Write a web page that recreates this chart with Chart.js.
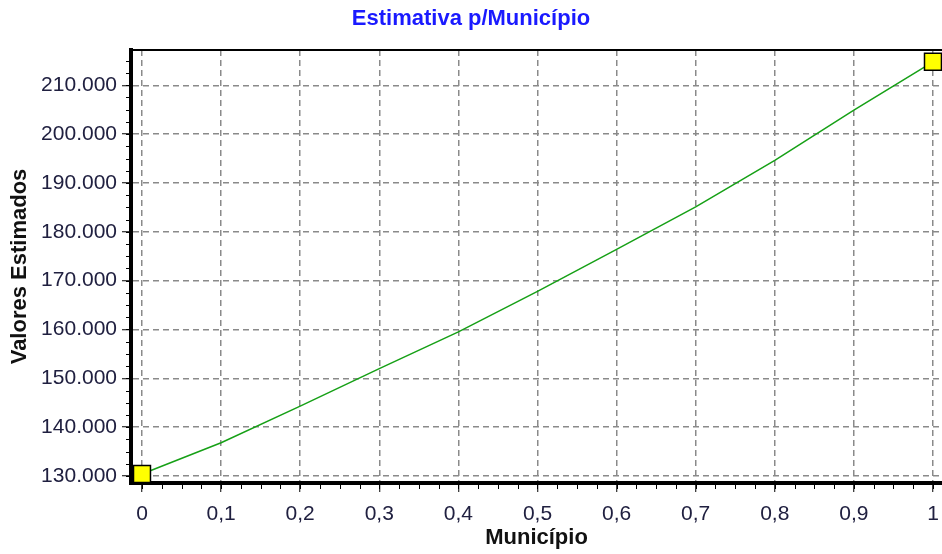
<!DOCTYPE html>
<html>
<head>
<meta charset="utf-8">
<script src="https://cdn.jsdelivr.net/npm/chart.js@4"></script>
<style>
  body { margin: 0; background: #fff; }
  #wrap { width: 942px; height: 554px; }
</style>
</head>
<body>
<div id="wrap"><canvas id="estimativaChart" width="942" height="554"></canvas></div>
<script>
// valores
const municipio = [0, 0.1, 0.2, 0.3, 0.4, 0.5, 0.6, 0.7, 0.8, 0.9, 1];
const valores = [130400, 136800, 144300, 152000, 159500, 167800, 176400, 185100, 194600, 204900, 214800];
const xTicks = [0, 0.1, 0.2, 0.3, 0.4, 0.5, 0.6, 0.7, 0.8, 0.9, 1];
const yTicks = [130000, 140000, 150000, 160000, 170000, 180000, 190000, 200000, 210000];

const fmtX = v => String(Math.round(v * 10) / 10).replace('.', ',');
const fmtY = v => String(v).replace(/\B(?=(\d{3})+(?!\d))/g, '.');

const fonte = 'Liberation Sans, Arial, sans-serif';

// tracinhos menores entre os ticks principais + moldura de cima
const extras = {
    id: 'extras',
    afterDraw(chart) {
        const { ctx, chartArea } = chart;
        const xs = chart.scales.x, ys = chart.scales.y;
        ctx.save();
        ctx.strokeStyle = '#000';
        ctx.lineWidth = 1;
        const xStep = (xTicks[1] - xTicks[0]) / 4;
        for (let v = xTicks[0]; v <= xs.max; v += xStep) {
            const px = Math.round(xs.getPixelForValue(v)) + 0.5;
            ctx.beginPath();
            ctx.moveTo(px, chartArea.bottom);
            ctx.lineTo(px, chartArea.bottom + 6);
            ctx.stroke();
        }
        const yStep = (yTicks[1] - yTicks[0]) / 4;
        for (let v = yTicks[0]; v <= ys.max; v += yStep) {
            const py = Math.round(ys.getPixelForValue(v)) + 0.5;
            ctx.beginPath();
            ctx.moveTo(chartArea.left - 5, py);
            ctx.lineTo(chartArea.left, py);
            ctx.stroke();
        }
        ctx.lineWidth = 2;
        ctx.beginPath();
        ctx.moveTo(chartArea.left, chartArea.top);
        ctx.lineTo(chartArea.right, chartArea.top);
        ctx.stroke();
        ctx.restore();
    }
};

const ctx = document.getElementById('estimativaChart').getContext('2d');

new Chart(ctx, {
    type: 'line',
    data: {
        datasets: [{
            data: municipio.map((m, i) => ({ x: m, y: valores[i] })),
            borderColor: '#16a016',
            borderWidth: 1.5,
            tension: 0,
            clip: false,
            pointStyle: 'rect',
            pointRadius: c => (c.dataIndex === 0 || c.dataIndex === municipio.length - 1) ? 12 : 0,
            pointBackgroundColor: '#ffff00',
            pointBorderColor: '#000',
            pointBorderWidth: 1.5
        }]
    },
    plugins: [extras],
    options: {
        responsive: false,
        animation: false,
        layout: { padding: 0, autoPadding: false },
        plugins: {
            legend: { display: false },
            tooltip: { enabled: false },
            title: {
                display: true,
                text: 'Estimativa p/Município',
                color: '#1a1aff',
                font: { family: fonte, size: 22, weight: 'bold' },
                padding: { top: 6, bottom: 17.6 }
            }
        },
        scales: {
            x: {
                type: 'linear',
                min: -0.0139,
                max: 1.0114,
                afterBuildTicks: s => { s.ticks = xTicks.map(v => ({ value: v })); },
                afterFit: s => { s.height = 71; s.paddingLeft = 0; s.paddingRight = 0; },
                grid: { color: '#8a8a8a', lineWidth: 1.5, tickColor: '#000', tickLength: 9, tickWidth: 1 },
                border: { display: true, color: '#000', width: 4, dash: [6, 4] },
                ticks: {
                    autoSkip: false,
                    maxRotation: 0,
                    padding: 10,
                    color: '#202040',
                    font: { family: fonte, size: 21 },
                    callback: v => fmtX(v)
                },
                title: {
                    display: true,
                    text: 'Município',
                    color: '#111',
                    font: { family: fonte, size: 22, weight: 'bold' },
                    padding: { top: 0, bottom: 3 }
                }
            },
            y: {
                min: 128570,
                max: 217220,
                afterBuildTicks: s => { s.ticks = yTicks.map(v => ({ value: v })); },
                afterFit: s => { s.width = 131; s.paddingTop = 0; s.paddingBottom = 0; },
                grid: { color: '#8a8a8a', lineWidth: 1.5, tickColor: '#000', tickLength: 9, tickWidth: 1 },
                border: { display: true, color: '#000', width: 4, dash: [6, 4] },
                ticks: {
                    autoSkip: false,
                    padding: 5,
                    color: '#202040',
                    font: { family: fonte, size: 21 },
                    callback: v => fmtY(v)
                },
                title: {
                    display: true,
                    text: 'Valores Estimados',
                    color: '#111',
                    font: { family: fonte, size: 22, weight: 'bold' },
                    padding: { top: 7, bottom: 0 }
                }
            }
        }
    }
});
</script>
</body>
</html>
